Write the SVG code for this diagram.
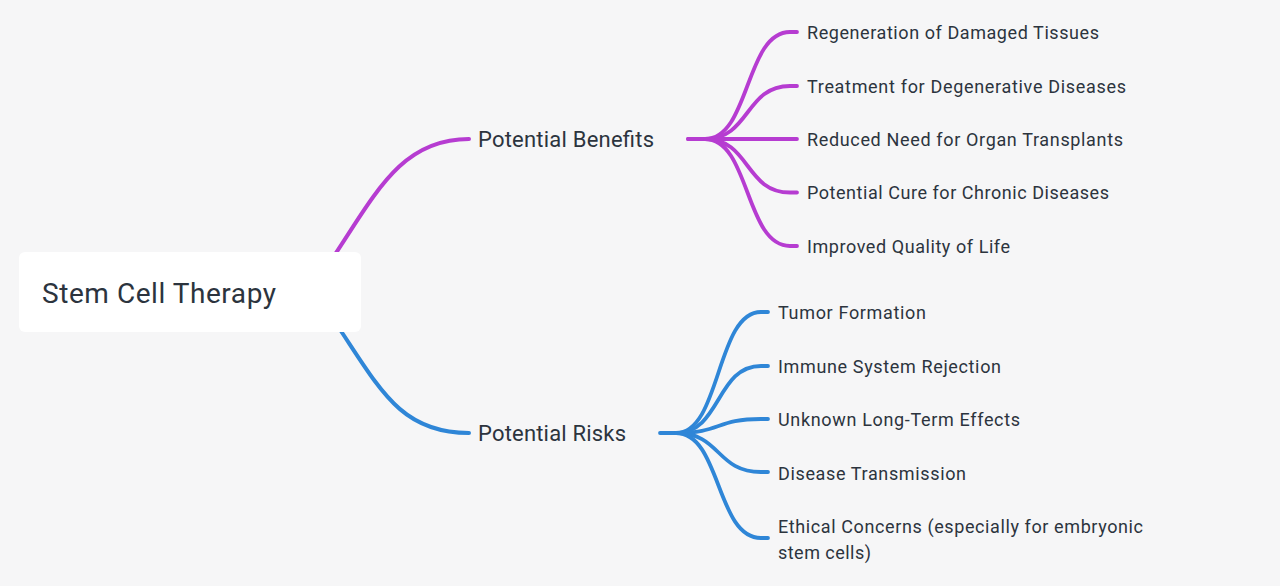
<svg xmlns="http://www.w3.org/2000/svg" width="1280" height="586" viewBox="0 0 1280 586">
<style>
text{font-family:Roboto,"Liberation Sans",sans-serif;fill:#2c343e}
.root{font-size:28px}
.l1{font-size:22px}
.l2{font-size:18px}
.c{fill:none;stroke-linecap:round}
.p{stroke:#b63cd1}
.b{stroke:#2f86d7}
.w1{stroke-width:4}
.w2{stroke-width:3.8}
</style>
<rect width="1280" height="586" fill="#f6f6f7"/>
<g id="connectors">
<path class="c p w1" d="M330,262 C375,195 400,139 469,139"/>
<path class="c b w1" d="M335,322 C380,389 400,433 469,433"/>
<path class="c p w2" d="M688,139 L705,139"/>
<path class="c p w2" d="M705,139 C750,139 745,32 790,32 L797,32"/>
<path class="c p w2" d="M705,139 C750,139 745,86 790,86 L797,86"/>
<path class="c p w2" d="M688,139 L797,139"/>
<path class="c p w2" d="M705,139 C750,139 745,192.5 790,192.5 L797,192.5"/>
<path class="c p w2" d="M705,139 C750,139 745,246 790,246 L797,246"/>
<path class="c b w2" d="M660,433 L676,433"/>
<path class="c b w2" d="M676,433 C721,433 716,312 761,312 L768,312"/>
<path class="c b w2" d="M676,433 C721,433 716,366 761,366 L768,366"/>
<path class="c b w2" d="M676,433 C721,433 716,419 761,419 L768,419"/>
<path class="c b w2" d="M676,433 C721,433 716,472 761,472 L768,472"/>
<path class="c b w2" d="M676,433 C721,433 716,538 761,538 L768,538"/>
</g>
<g id="root">
<rect x="19" y="252" width="342" height="80" rx="6" fill="#ffffff"/>
<text class="root" x="42" y="303" textLength="234">Stem Cell Therapy</text>
</g>
<g id="benefits">
<text class="l1" x="478" y="147" textLength="176">Potential Benefits</text>
</g>
<g id="risks">
<text class="l1" x="478" y="441" textLength="148">Potential Risks</text>
</g>
<g id="b1"><text class="l2" x="807" y="39" textLength="292">Regeneration of Damaged Tissues</text></g>
<g id="b2"><text class="l2" x="807" y="93" textLength="319">Treatment for Degenerative Diseases</text></g>
<g id="b3"><text class="l2" x="807" y="146" textLength="316">Reduced Need for Organ Transplants</text></g>
<g id="b4"><text class="l2" x="807" y="199" textLength="302">Potential Cure for Chronic Diseases</text></g>
<g id="b5"><text class="l2" x="807" y="253" textLength="203">Improved Quality of Life</text></g>
<g id="r1"><text class="l2" x="778" y="319" textLength="148">Tumor Formation</text></g>
<g id="r2"><text class="l2" x="778" y="373" textLength="223">Immune System Rejection</text></g>
<g id="r3"><text class="l2" x="778" y="426" textLength="242">Unknown Long-Term Effects</text></g>
<g id="r4"><text class="l2" x="778" y="480" textLength="188">Disease Transmission</text></g>
<g id="r5"><text class="l2" x="778" y="533" textLength="365">Ethical Concerns (especially for embryonic</text><text class="l2" x="778" y="559" textLength="93">stem cells)</text></g>
</svg>
